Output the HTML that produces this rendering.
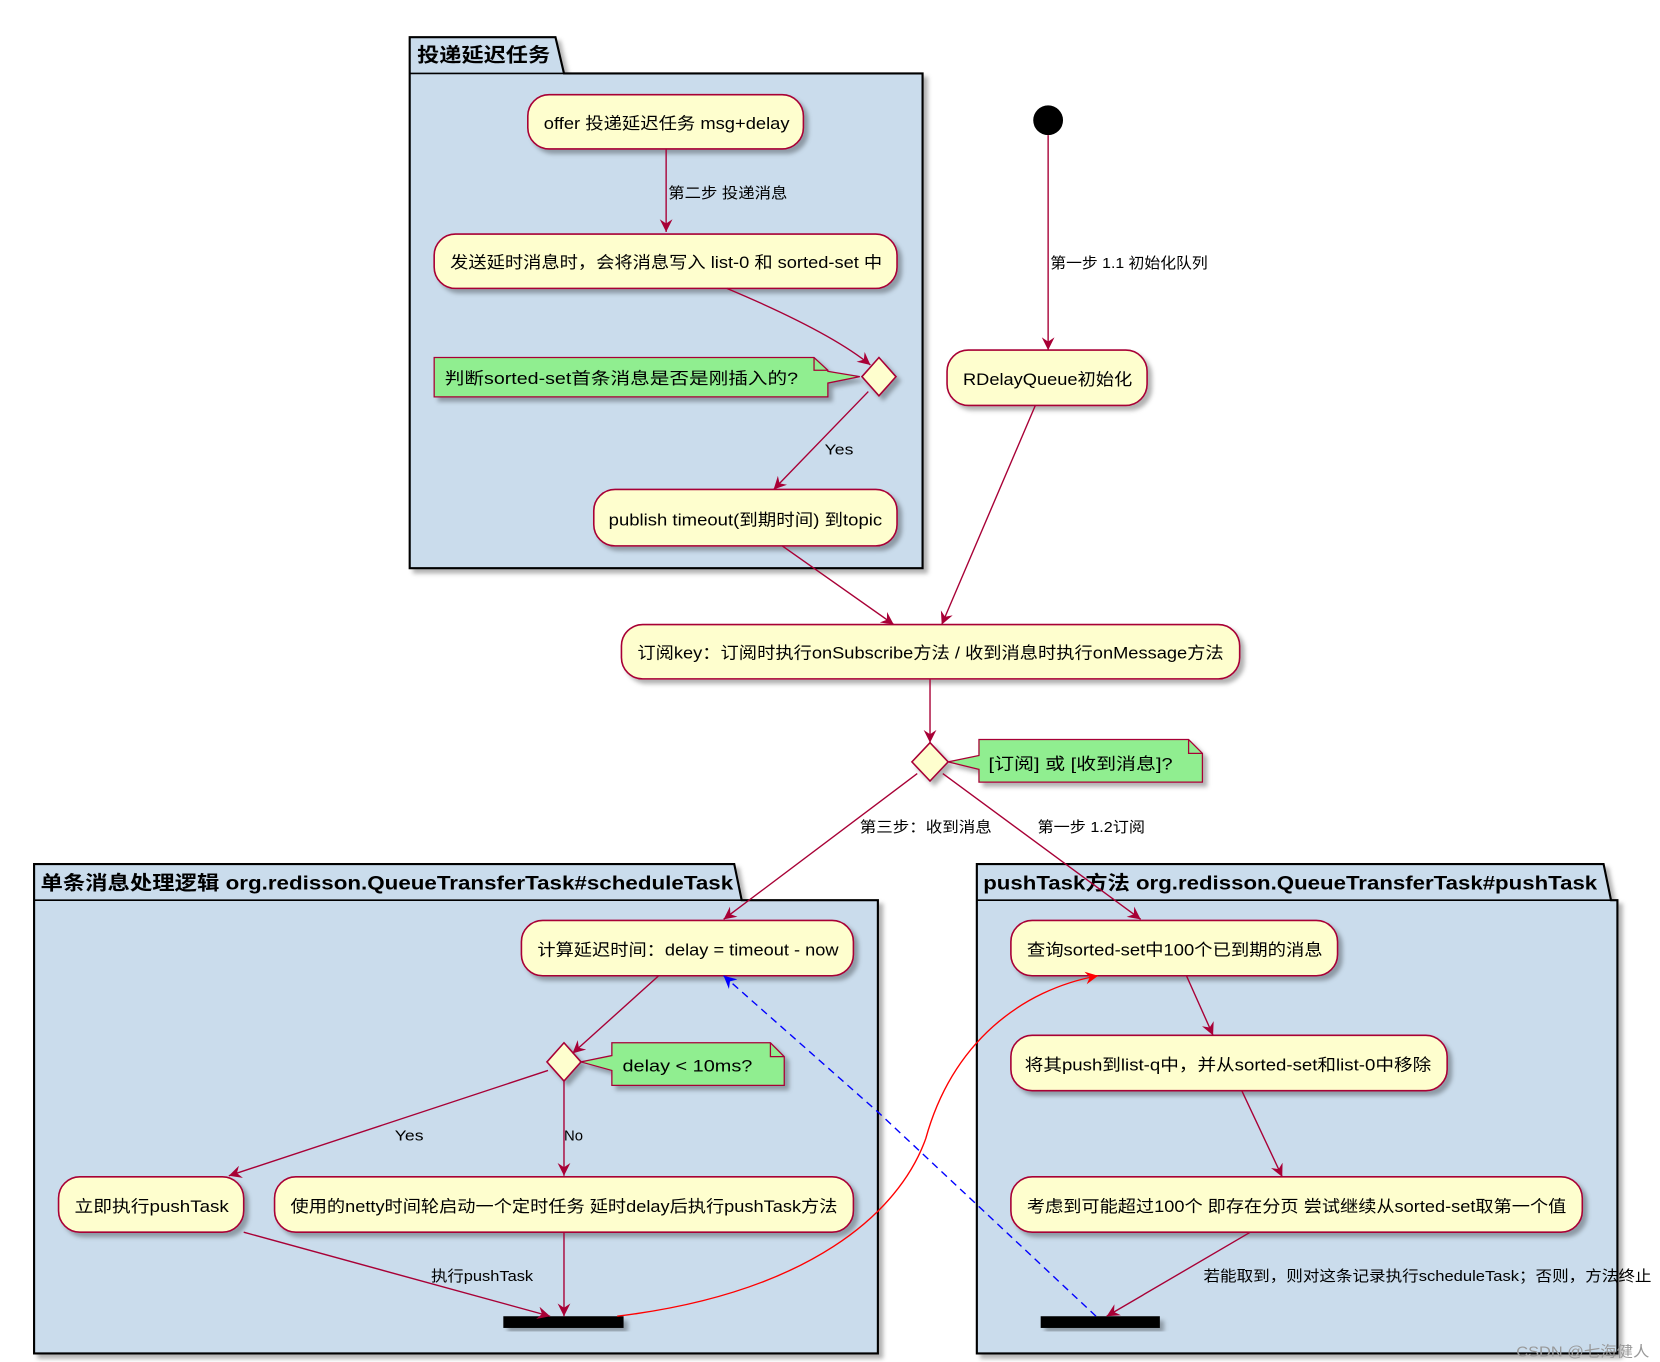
<!DOCTYPE html>
<html><head><meta charset="utf-8"><style>
html,body{margin:0;padding:0;background:#fff;}
svg{display:block}
text{font-family:"Liberation Sans","Noto Sans CJK SC",sans-serif;fill:#000}
.n{font-size:15.5px}
.l{font-size:14px}
.t{font-size:18px;font-weight:bold}
</style></head><body>
<svg width="1660" height="1362" viewBox="0 0 1560 1280" xmlns="http://www.w3.org/2000/svg">
<defs>
<marker id="a" markerWidth="14" markerHeight="12" refX="12" refY="6" orient="auto" markerUnits="userSpaceOnUse"><path d="M0,0 L12,6 L0,12 L4,6 Z" fill="#A80036"/></marker>
<marker id="ar" markerWidth="14" markerHeight="12" refX="12" refY="6" orient="auto" markerUnits="userSpaceOnUse"><path d="M0,0 L12,6 L0,12 L4,6 Z" fill="#f00"/></marker>
<marker id="ab" markerWidth="14" markerHeight="12" refX="12" refY="6" orient="auto" markerUnits="userSpaceOnUse"><path d="M0,0 L12,6 L0,12 L4,6 Z" fill="#00f"/></marker>
<filter id="s" x="-10%" y="-10%" width="130%" height="140%"><feDropShadow dx="4" dy="4" stdDeviation="2" flood-color="#000" flood-opacity="0.3"/></filter>
</defs>
<g stroke="#000" stroke-width="2" fill="#CADCEC" filter="url(#s)">
<path d="M385,69 L385,35 L522,35 L530,69 L867,69 L867,534 L385,534 Z"/>
<path d="M32,846 L32,812 L690,812 L697,846 L825,846 L825,1272 L32,1272 Z"/>
<path d="M918,846 L918,812 L1507,812 L1514,846 L1520,846 L1520,1272 L918,1272 Z"/>
</g>
<g stroke="#000" stroke-width="1.5" fill="none">
<line x1="385" y1="69" x2="530" y2="69"/><line x1="32" y1="846" x2="697" y2="846"/><line x1="918" y1="846" x2="1514" y2="846"/>
</g>
<text class="t" x="392" y="58" textLength="125" lengthAdjust="spacingAndGlyphs">投递延迟任务</text>
<text class="t" x="38" y="836" textLength="651" lengthAdjust="spacingAndGlyphs">单条消息处理逻辑 org.redisson.QueueTransferTask#scheduleTask</text>
<text class="t" x="924" y="836" textLength="577" lengthAdjust="spacingAndGlyphs">pushTask方法 org.redisson.QueueTransferTask#pushTask</text>

<g fill="#FEFECE" stroke="#A80036" stroke-width="1.5" filter="url(#s)">
<rect x="496" y="89" width="259" height="51" rx="20"/>
<rect x="408" y="220" width="435" height="51" rx="20"/>
<rect x="558" y="460" width="285" height="53" rx="20"/>
<rect x="890" y="329" width="188" height="52" rx="20"/>
<rect x="584" y="587" width="581" height="51" rx="20"/>
<rect x="490" y="865" width="312" height="52" rx="20"/>
<rect x="55" y="1106" width="174" height="52" rx="20"/>
<rect x="258" y="1106" width="544" height="52" rx="20"/>
<rect x="950" y="865" width="307" height="52" rx="20"/>
<rect x="950" y="973" width="410" height="52" rx="20"/>
<rect x="950" y="1106" width="537" height="52" rx="20"/>
<path d="M826,336 L842,354 L826,372 L810,354 Z"/>
<path d="M874,698 L891,716 L874,734 L857,716 Z"/>
<path d="M530,980 L546,998 L530,1016 L514,998 Z"/>
</g>
<g fill="#90EE90" stroke="#A80036" stroke-width="1.2" filter="url(#s)">
<path d="M408,336 L765,336 L778,348 L778,349 L808,354 L778,360 L778,373 L408,373 Z"/>
<path d="M920,695 L1117,695 L1130,708 L1130,735 L920,735 L920,723 L891,716 L920,710 Z"/>
<path d="M575,980 L724,980 L737,993 L737,1020 L575,1020 L575,1006 L546,998 L575,992 Z"/>
</g>
<g fill="none" stroke="#A80036" stroke-width="1.2">
<path d="M765,336 L765,348 L778,348"/><path d="M1117,695 L1117,708 L1130,708"/><path d="M724,980 L724,993 L737,993"/>
</g>
<circle cx="985" cy="113" r="14" fill="#000"/>
<rect x="473" y="1237" width="113" height="11" fill="#000" filter="url(#s)"/>
<rect x="978" y="1237" width="112" height="11" fill="#000" filter="url(#s)"/>

<g stroke="#A80036" stroke-width="1.3" fill="none" marker-end="url(#a)">
<line x1="626" y1="140" x2="626" y2="218"/>
<path d="M683,271 C740,295 790,320 818,343"/>
<line x1="816" y1="368" x2="727" y2="460"/>
<line x1="985" y1="127" x2="985" y2="329"/>
<line x1="973" y1="381" x2="885" y2="587"/>
<line x1="735" y1="513" x2="840" y2="587"/>
<line x1="874" y1="638" x2="874" y2="698"/>
<line x1="862" y1="727" x2="680" y2="864"/>
<line x1="886" y1="727" x2="1072" y2="864"/>
<line x1="619" y1="917" x2="538" y2="990"/>
<line x1="515" y1="1006" x2="215" y2="1105"/>
<line x1="530" y1="1016" x2="530" y2="1105"/>
<line x1="229" y1="1158" x2="517" y2="1237"/>
<line x1="530" y1="1158" x2="530" y2="1237"/>
<line x1="1115" y1="917" x2="1140" y2="973"/>
<line x1="1167" y1="1025" x2="1205" y2="1106"/>
<line x1="1175" y1="1158" x2="1040" y2="1237"/>
</g>
<path d="M580,1237 C760,1215 845,1140 870,1070 C895,980 960,930 1032,917" fill="none" stroke="#f00" stroke-width="1.3" marker-end="url(#ar)"/>
<path d="M1030,1237 L825,1045 L680,917" fill="none" stroke="#00f" stroke-width="1.3" stroke-dasharray="7,5" marker-end="url(#ab)"/>

<g class="n">
<text x="511" y="121" textLength="231" lengthAdjust="spacingAndGlyphs">offer 投递延迟任务 msg+delay</text>
<text x="423" y="252" textLength="406" lengthAdjust="spacingAndGlyphs">发送延时消息时，会将消息写入 list-0 和 sorted-set 中</text>
<text x="418" y="361" textLength="332" lengthAdjust="spacingAndGlyphs">判断sorted-set首条消息是否是刚插入的?</text>
<text x="572" y="494" textLength="257" lengthAdjust="spacingAndGlyphs">publish timeout(到期时间) 到topic</text>
<text x="905" y="362" textLength="159" lengthAdjust="spacingAndGlyphs">RDelayQueue初始化</text>
<text x="599" y="619" textLength="551" lengthAdjust="spacingAndGlyphs">订阅key：订阅时执行onSubscribe方法 / 收到消息时执行onMessage方法</text>
<text x="929" y="723" textLength="173" lengthAdjust="spacingAndGlyphs">[订阅] 或 [收到消息]?</text>
<text x="505" y="898" textLength="283" lengthAdjust="spacingAndGlyphs">计算延迟时间：delay = timeout - now</text>
<text x="585" y="1007" textLength="122" lengthAdjust="spacingAndGlyphs">delay &lt; 10ms?</text>
<text x="70" y="1139" textLength="145" lengthAdjust="spacingAndGlyphs">立即执行pushTask</text>
<text x="273" y="1139" textLength="514" lengthAdjust="spacingAndGlyphs">使用的netty时间轮启动一个定时任务 延时delay后执行pushTask方法</text>
<text x="965" y="898" textLength="278" lengthAdjust="spacingAndGlyphs">查询sorted-set中100个已到期的消息</text>
<text x="963" y="1006" textLength="382" lengthAdjust="spacingAndGlyphs">将其push到list-q中，并从sorted-set和list-0中移除</text>
<text x="965" y="1139" textLength="507" lengthAdjust="spacingAndGlyphs">考虑到可能超过100个 即存在分页 尝试继续从sorted-set取第一个值</text>
</g>
<g class="l">
<text x="628" y="186" textLength="112" lengthAdjust="spacingAndGlyphs">第二步 投递消息</text>
<text x="775" y="427" textLength="27" lengthAdjust="spacingAndGlyphs">Yes</text>
<text x="987" y="252" textLength="148" lengthAdjust="spacingAndGlyphs">第一步 1.1 初始化队列</text>
<text x="808" y="782" textLength="124" lengthAdjust="spacingAndGlyphs">第三步：收到消息</text>
<text x="975" y="782" textLength="101" lengthAdjust="spacingAndGlyphs">第一步 1.2订阅</text>
<text x="371" y="1072" textLength="27" lengthAdjust="spacingAndGlyphs">Yes</text>
<text x="530" y="1072">No</text>
<text x="405" y="1204" textLength="96" lengthAdjust="spacingAndGlyphs">执行pushTask</text>
<text x="1131" y="1204" textLength="421" lengthAdjust="spacingAndGlyphs">若能取到，则对这条记录执行scheduleTask；否则，方法终止</text>
<text x="1425" y="1275" style="fill:#999" textLength="125" lengthAdjust="spacingAndGlyphs">CSDN @七海健人</text>
</g>
</svg>
</body></html>
